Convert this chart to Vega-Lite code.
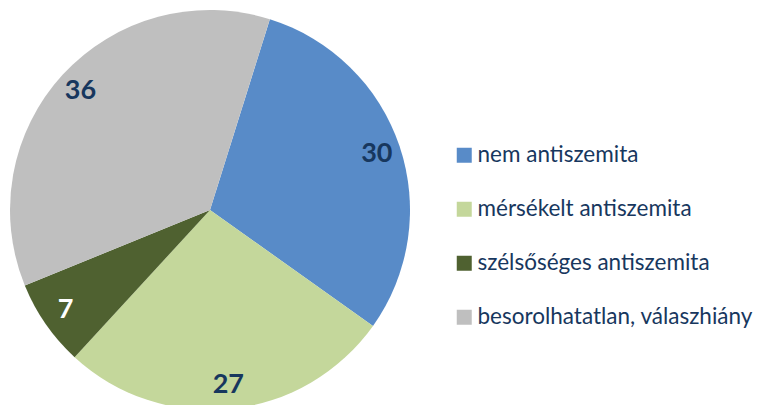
{
  "$schema": "https://vega.github.io/schema/vega-lite/v6.json",
  "width": 420,
  "height": 420,
  "padding": 0,
  "autosize": {"type": "pad"},
  "background": "white",
  "config": {"view": {"stroke": null}},
  "data": {"values": [
    {"cat": "nem antiszemita", "value": 30, "idx": 1},
    {"cat": "mérsékelt antiszemita", "value": 27, "idx": 2},
    {"cat": "szélsőséges antiszemita", "value": 7, "idx": 3},
    {"cat": "besorolhatatlan, válaszhiány", "value": 36, "idx": 4}
  ]},
  "encoding": {
    "theta": {"field": "value", "type": "quantitative", "stack": true, "scale": {"range": [0.304, 6.587]}},
    "order": {"field": "idx", "type": "quantitative"}
  },
  "layer": [
    {
      "mark": {"type": "arc", "outerRadius": 200},
      "encoding": {
        "color": {
          "field": "cat", "type": "nominal",
          "sort": ["nem antiszemita", "mérsékelt antiszemita", "szélsőséges antiszemita", "besorolhatatlan, válaszhiány"],
          "scale": {
            "domain": ["nem antiszemita", "mérsékelt antiszemita", "szélsőséges antiszemita", "besorolhatatlan, válaszhiány"],
            "range": ["#588BC8", "#C4D79B", "#4F6130", "#BFBFBF"]
          },
          "legend": {
            "title": null,
            "orient": "none",
            "legendX": 453,
            "legendY": 144,
            "padding": 0,
            "symbolType": "square",
            "symbolSize": 225,
            "symbolStrokeWidth": 0,
            "labelFont": "Lato",
            "labelFontSize": 22.5,
            "labelColor": "#17375E",
            "labelOffset": 2,
            "rowPadding": 31,
            "labelLimit": 400
          }
        }
      }
    },
    {
      "mark": {"type": "text", "radius": 176, "font": "Lato", "fontWeight": "bold", "fontSize": 27},
      "encoding": {
        "text": {"field": "value", "type": "quantitative"},
        "color": {
          "condition": {"test": "datum.cat === 'szélsőséges antiszemita'", "value": "#FFFFFF"},
          "value": "#17375E"
        }
      }
    }
  ]
}
